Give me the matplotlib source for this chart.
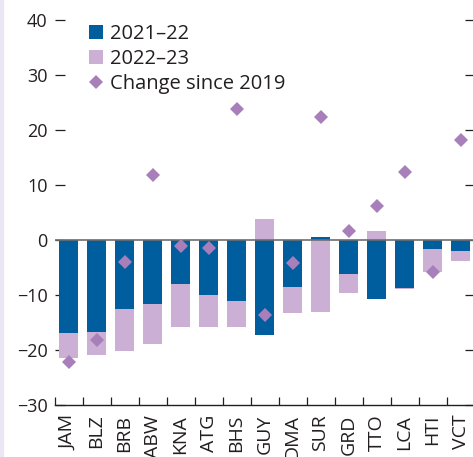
import numpy as np
import matplotlib.pyplot as plt
from matplotlib.patches import Rectangle

plt.rcParams['font.family'] = ['Open Sans', 'DejaVu Sans']

countries = ['JAM', 'BLZ', 'BRB', 'ABW', 'KNA', 'ATG', 'BHS', 'GUY',
             'DMA', 'SUR', 'GRD', 'TTO', 'LCA', 'HTI', 'VCT']
chg_2122 = [-16.9, -16.7, -12.5, -11.6, -8.0, -10.0, -11.1, -17.3,
            -8.5, 0.5, -6.2, -10.7, -8.7, -1.6, -2.0]
chg_2223 = [-4.5, -4.2, -7.6, -7.3, -7.9, -5.8, -4.7, 3.8,
            -4.7, -13.0, -3.4, 1.6, -0.2, -4.3, -1.8]
chg_2019 = [-22.1, -18.2, -4.0, 11.8, -1.0, -1.4, 23.9, -13.6,
            -4.2, 22.3, 1.7, 6.2, 12.3, -5.8, 18.1]

DARK_BLUE = '#005d9e'
LIGHT_PURPLE = '#ccafd4'
DIAMOND = '#a97fbb'
TEXT = '#231f20'

W, H = 473, 457
fig = plt.figure(figsize=(W / 100, H / 100), dpi=100)
fig.patches.append(Rectangle((0, 0), 2.5 / W, 1, transform=fig.transFigure,
                             color='#ece5f3', zorder=0))

ax = fig.add_axes([54.5 / W, (H - 405) / H, 420 / W, 385 / H])

x = np.arange(len(countries))
a = np.array(chg_2122)
b = np.array(chg_2223)
# stack the second year on the first only when both move the same way
bottom = np.where(np.sign(a) == np.sign(b), a, 0)

h1 = ax.bar(x, a, width=0.68, color=DARK_BLUE, label='2021–22', zorder=2)
h2 = ax.bar(x, b, width=0.68, bottom=bottom, color=LIGHT_PURPLE,
            label='2022–23', zorder=2)
ax.axhline(0, color='#6d6e71', lw=1.2, zorder=3)
h3, = ax.plot(x, chg_2019, linestyle='none', marker='D', ms=7.6, mew=0,
              color=DIAMOND, label='Change since 2019', zorder=4)

ax.set_xlim(-0.5, len(countries) - 0.5)
ax.set_ylim(-30, 40)
ax.set_yticks(range(-30, 41, 10))

for side in ['left', 'top', 'right']:
    ax.spines[side].set_visible(False)
ax.spines['bottom'].set_color(TEXT)
ax.spines['bottom'].set_linewidth(1.0)

ax.tick_params(axis='y', direction='in', length=7, width=0.9,
               right=True, colors=TEXT, labelsize=13, pad=5)
ax.set_xticks(x)
ax.set_xticklabels(countries, rotation=90)
ax.set_xticks(np.arange(-0.5, len(countries), 1), minor=True)
ax.tick_params(axis='x', which='major', length=0, pad=7,
               labelsize=14, colors=TEXT)
ax.tick_params(axis='x', which='minor', direction='in', length=6,
               width=0.9, color=TEXT)

ax.legend(handles=[h1, h2, h3], loc='upper left',
          bbox_to_anchor=(89 / W, 1 - 24 / H),
          bbox_transform=fig.transFigure, frameon=False, fontsize=14.5,
          borderpad=0, borderaxespad=0, handlelength=0.7,
          handleheight=0.7, handletextpad=0.35, labelspacing=0.24,
          labelcolor=TEXT)

fig.savefig('out.png', dpi=100)
